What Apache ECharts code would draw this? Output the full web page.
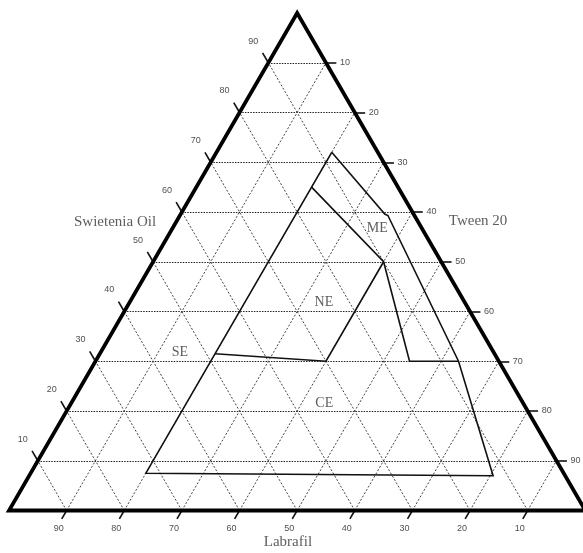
<!DOCTYPE html>
<html>
<head>
<meta charset="utf-8">
<script src="https://cdn.jsdelivr.net/npm/echarts/dist/echarts.min.js"></script>
<style>
html, body { margin: 0; padding: 0; background: #fff; }
#main { width: 583px; height: 553px; }
</style>
</head>
<body>
<div id="main"></div>
<script>
// 三元相图: 每个点写成 [Swietenia Oil, Tween 20], Labrafil = 100 - 两者之和
var gridValues = [10, 20, 30, 40, 50, 60, 70, 80, 90];
var leftTickLabels = ['10', '20', '30', '40', '50', '60', '70', '80', '90']; // Swietenia Oil, oil 从小到大
var rightTickLabels = ['90', '80', '70', '60', '50', '40', '30', '20', '10']; // Tween 20, oil 从小到大
var bottomTickLabels = ['90', '80', '70', '60', '50', '40', '30', '20', '10']; // Labrafil, 从左到右

// 区域边界
var outerRegion = [[72, 20], [59.6, 35.4], [59.3, 36.1], [30, 63], [7, 80.5], [7.5, 20], [72, 20]];
var meBoundary = [[65, 20], [50, 40], [30, 54.5], [30, 63]];
var neBoundary = [[50, 40], [30, 40], [31.5, 20]];
var regionNames = ['ME', 'NE', 'SE', 'CE'];
var axisNames = ['Swietenia Oil', 'Tween 20', 'Labrafil'];

// 三元坐标 -> 直角坐标 (x 轴 0~100, y 轴就是 oil 的百分比)
function toXY(p) {
	return [p[1] + p[0] / 2, p[0]];
}

function polyline(points) {
	var ret = [];
	for (var i = 0; i < points.length; i++) {
		ret.push(toXY(points[i]));
	}
	return ret;
}

// 虚线网格
var flatLines = [];
var slantLines = [];
gridValues.forEach(function(v) {
	flatLines.push({ coords: [toXY([v, 0]), toXY([v, 100 - v])] }); // oil 不变
	slantLines.push({ coords: [toXY([0, v]), toXY([100 - v, v])] }); // tween 不变
	slantLines.push({ coords: [toXY([0, 100 - v]), toXY([100 - v, 0])] }); // labrafil 不变
});

// 刻度线和刻度文字
var tickLines = [];
var leftLabels = [];
var rightLabels = [];
var bottomLabels = [];
for (var i = 0; i < gridValues.length; i++) {
	var v = gridValues[i];
	var l = toXY([v, 0]);
	tickLines.push({ coords: [l, toXY([v + 2, -2])] });
	leftLabels.push({ value: l, name: leftTickLabels[i] });

	var r = toXY([v, 100 - v]);
	tickLines.push({ coords: [r, [r[0] + 1.8, r[1]]] });
	rightLabels.push({ value: r, name: rightTickLabels[i] });

	var b = toXY([0, v]);
	tickLines.push({ coords: [b, toXY([-1.7, v])] });
	bottomLabels.push({ value: b, name: bottomTickLabels[i] });
}

var labelSpots = [[56.8, 35.5], [41.9, 33.7], [31.7, 13.8], [21.6, 43.9]];
var regionLabels = [];
for (var j = 0; j < regionNames.length; j++) {
	regionLabels.push({ value: toXY(labelSpots[j]), name: regionNames[j] });
}
var titleLabels = [
	{ value: [18.4, 58], name: axisNames[0] },
	{ value: [81.4, 58.2], name: axisNames[1] },
	{ value: [48.4, -6.3], name: axisNames[2] }
];

function textSeries(data, font, size, color, offset) {
	return {
		type: 'scatter',
		data: data,
		symbolSize: 0,
		clip: false,
		silent: true,
		z: 5,
		label: {
			show: true,
			position: 'inside',
			formatter: '{b}',
			fontFamily: font,
			fontSize: size,
			color: color,
			offset: offset
		}
	};
}

function lineSeries(data, color, width, type, poly) {
	return {
		type: 'lines',
		coordinateSystem: 'cartesian2d',
		polyline: !!poly,
		clip: false,
		silent: true,
		data: data,
		lineStyle: {
			color: color,
			width: width,
			type: type,
			opacity: 1,
			curveness: 0,
			join: 'miter',
			miterLimit: 10
		}
	};
}

var myChart = echarts.init(document.getElementById('main'));
var option = {
	animation: false,
	backgroundColor: '#fff',
	grid: { left: 9, right: 0, top: 13, bottom: 42.5 },
	xAxis: { type: 'value', min: 0, max: 99.6, show: false },
	yAxis: { type: 'value', min: 0, max: 100, show: false },
	series: [
		lineSeries(flatLines, '#222', 1.2, [1.5, 1.2]),
		lineSeries(slantLines, '#444', 1, [2, 1.8]),
		lineSeries(tickLines, '#111', 1.6, 'solid'),
		lineSeries([{ coords: polyline([[0, 0], [0, 100], [100, 0], [0, 0], [0, 100]]) }], '#000', 3.8, 'solid', true),
		lineSeries([
			{ coords: polyline(outerRegion) },
			{ coords: polyline(meBoundary) },
			{ coords: polyline(neBoundary) }
		], '#111', 1.6, 'solid', true),
		textSeries(leftLabels, 'Liberation Sans', 9, '#222', [-15, -21.5]),
		textSeries(rightLabels, 'Liberation Sans', 9, '#222', [19, 0]),
		textSeries(bottomLabels, 'Liberation Sans', 9, '#222', [-8, 18]),
		textSeries(regionLabels, 'Liberation Serif', 14, '#333', [0, 0]),
		textSeries(titleLabels, 'Liberation Serif', 15, '#333', [0, 0])
	]
};
myChart.setOption(option);
</script>
</body>
</html>
